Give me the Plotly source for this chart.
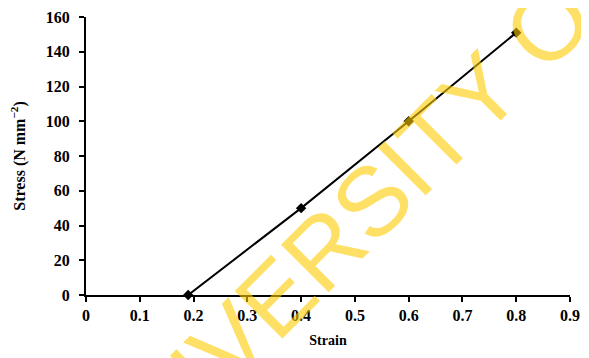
import plotly.graph_objects as go

strain = [0.19, 0.4, 0.6, 0.8]
stress = [0, 50, 100, 151]
x_ticks = [0, 0.1, 0.2, 0.3, 0.4, 0.5, 0.6, 0.7, 0.8, 0.9]
x_tick_labels = ["0", "0.1", "0.2", "0.3", "0.4", "0.5", "0.6", "0.7", "0.8", "0.9"]
y_ticks = [0, 20, 40, 60, 80, 100, 120, 140, 160]
y_tick_labels = ["0", "20", "40", "60", "80", "100", "120", "140", "160"]
watermark = "UNIVERSITY OF CAPE COAST"

serif = "Liberation Serif, Times New Roman, serif"

fig = go.Figure()
fig.add_trace(go.Scatter(
    x=strain, y=stress, mode="lines+markers",
    line=dict(color="black", width=2),
    marker=dict(symbol="diamond", size=8, color="black"),
    showlegend=False, cliponaxis=False,
))

fig.update_layout(
    width=581, height=350,
    margin=dict(l=78, r=19, t=9, b=63),
    paper_bgcolor="white", plot_bgcolor="white",
    font=dict(family=serif, color="black"),
    xaxis=dict(
        range=[0, 0.9], tickvals=x_ticks, ticktext=["<b>%s</b>" % t for t in x_tick_labels],
        showgrid=False, zeroline=False, showline=True, linecolor="black", linewidth=2,
        ticks="outside", ticklen=5, tickwidth=2, tickcolor="black", automargin=False,
        tickfont=dict(family=serif, size=16, color="black"),
        title=dict(text="<b>Strain</b>", font=dict(family=serif, size=14), standoff=12),
    ),
    yaxis=dict(
        range=[0, 160], tickvals=y_ticks, ticktext=["<b>%s</b>" % t for t in y_tick_labels],
        showgrid=False, zeroline=False, showline=True, linecolor="black", linewidth=2,
        ticks="outside", ticklen=5, tickwidth=2, tickcolor="black", automargin=False,
        ticklabelstandoff=6,
        tickfont=dict(family=serif, size=16, color="black"),
        title=dict(text="<b>Stress (N mm<sup>−2</sup>)</b>", font=dict(family=serif, size=16), standoff=22),
    ),
    annotations=[dict(
        text=watermark, xref="paper", yref="paper",
        x=1.031, y=1.104,
        xanchor="center", yanchor="middle", showarrow=False,
        textangle=-45,
        font=dict(family="Liberation Sans, Arial, sans-serif", size=98, color="rgba(255,204,0,0.6)"),
    )],
)

fig.write_html("out.html")
